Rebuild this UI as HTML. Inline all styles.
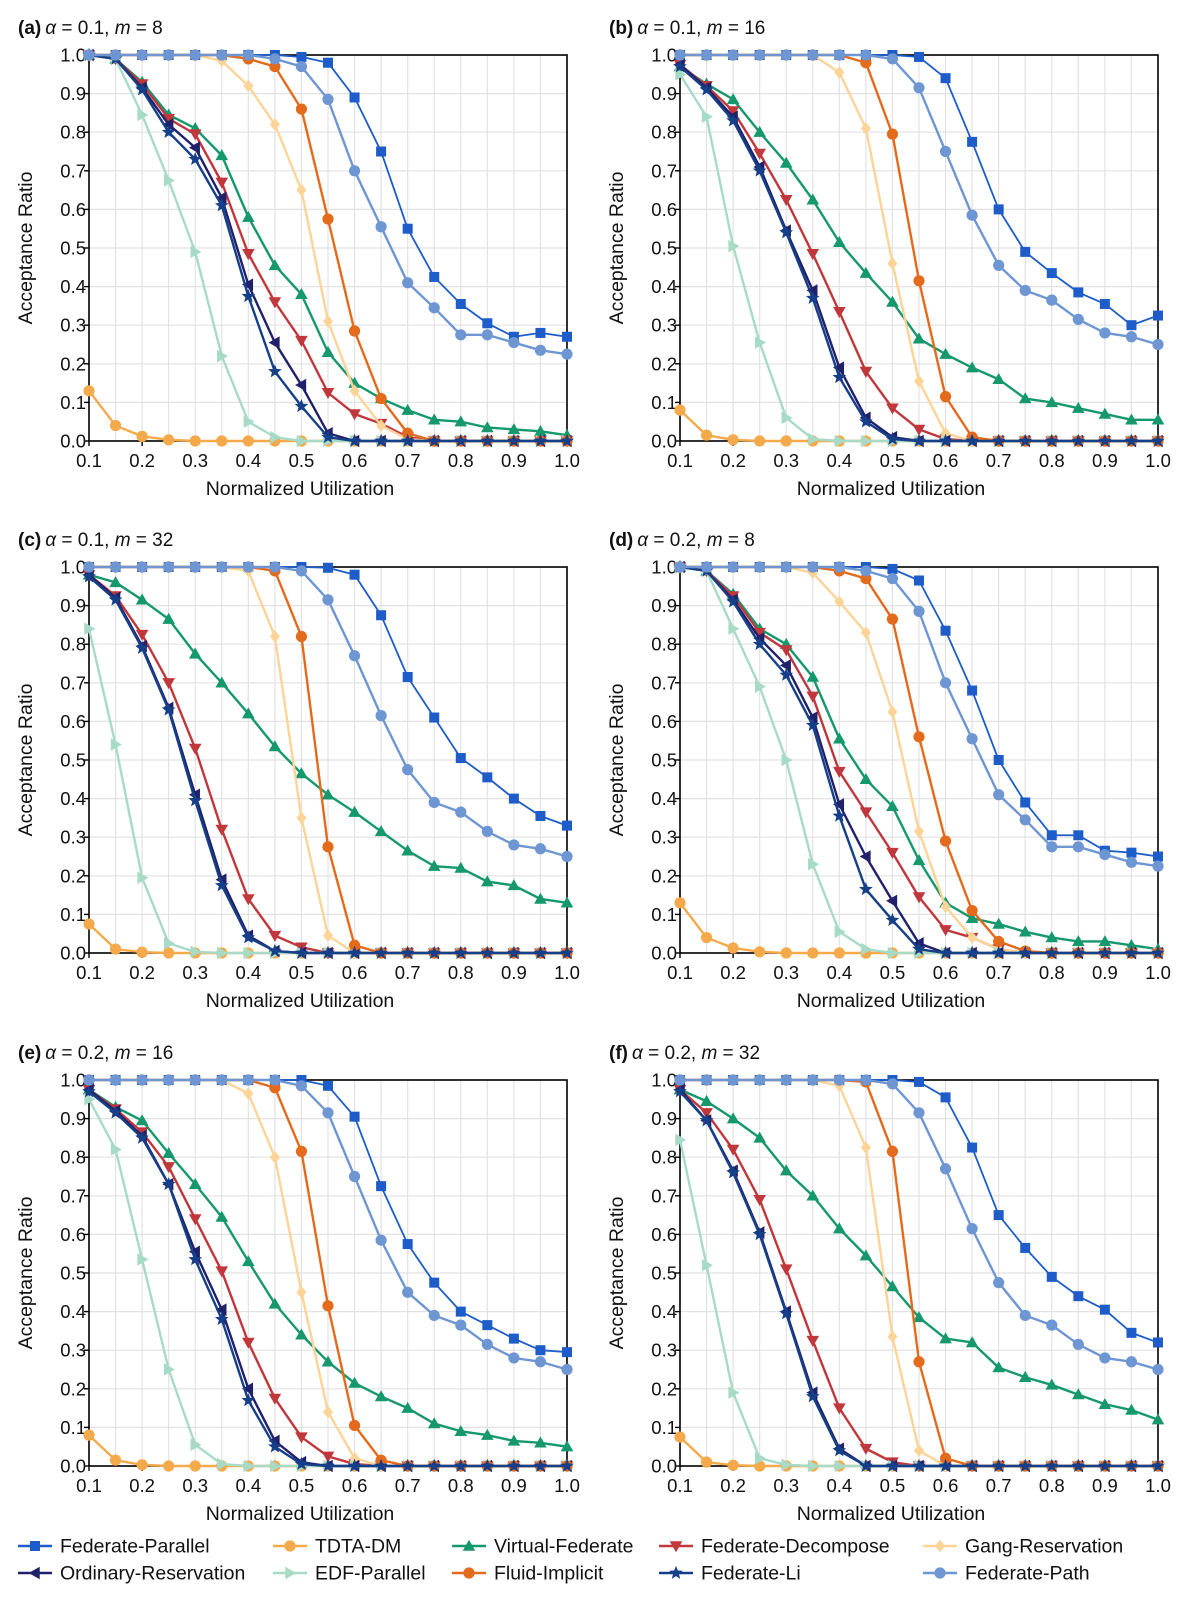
<!DOCTYPE html>
<html><head><meta charset="utf-8">
<style>
html,body{margin:0;padding:0;background:#fff;}
svg{display:block;font-family:"Liberation Sans","DejaVu Sans",sans-serif;}
</style></head>
<body>
<svg id="chart" width="1183" height="1600" viewBox="0 0 1183 1600" xmlns="http://www.w3.org/2000/svg"></svg>
<script>
const xValues = [0.1,0.15,0.2,0.25,0.3,0.35,0.4,0.45,0.5,0.55,0.6,0.65,0.7,0.75,0.8,0.85,0.9,0.95,1.0];
const xTickLabels = ["0.1","0.2","0.3","0.4","0.5","0.6","0.7","0.8","0.9","1.0"];
const yTickLabels = ["0.0","0.1","0.2","0.3","0.4","0.5","0.6","0.7","0.8","0.9","1.0"];
const seriesNames = ["Federate-Parallel","TDTA-DM","Virtual-Federate","Federate-Decompose","Gang-Reservation","Ordinary-Reservation","EDF-Parallel","Fluid-Implicit","Federate-Li","Federate-Path"];
const panelTitles = [["(a)","0.1","8"],["(b)","0.1","16"],["(c)","0.1","32"],["(d)","0.2","8"],["(e)","0.2","16"],["(f)","0.2","32"]];

// Panel (a) alpha=0.1 m=8
const panelA_FP   = [1,1,1,1,1,1,1,1,.995,.98,.89,.75,.55,.425,.355,.305,.27,.28,.27];
const panelA_TDTA = [.13,.04,.012,.003,0,0,0,0,0,0,0,0,0,0,0,0,0,0,0];
const panelA_VF   = [1,.99,.93,.845,.81,.74,.58,.455,.38,.23,.15,.11,.08,.055,.05,.035,.03,.025,.015];
const panelA_FD   = [1,.99,.925,.835,.795,.67,.485,.36,.26,.125,.07,.045,.01,0,0,0,0,0,0];
const panelA_GR   = [1,1,1,1,1,.985,.92,.82,.65,.31,.13,.04,.005,0,0,0,0,0,0];
const panelA_OR   = [1,.99,.915,.82,.76,.63,.405,.255,.145,.02,0,0,0,0,0,0,0,0,0];
const panelA_EDF  = [1,.99,.845,.675,.49,.22,.05,.01,0,0,0,0,0,0,0,0,0,0,0];
const panelA_FI   = [1,1,1,1,1,1,.99,.97,.86,.575,.285,.11,.02,0,0,0,0,0,0];
const panelA_FLi  = [1,.99,.91,.80,.73,.61,.375,.18,.09,.01,0,0,0,0,0,0,0,0,0];
const panelA_FPa  = [1,1,1,1,1,1,1,.99,.97,.885,.70,.555,.41,.345,.275,.275,.255,.235,.225];
// Panel (b) alpha=0.1 m=16
const panelB_FP   = [1,1,1,1,1,1,1,1,1,.995,.94,.775,.60,.49,.435,.385,.355,.30,.325];
const panelB_TDTA = [.08,.015,.003,0,0,0,0,0,0,0,0,0,0,0,0,0,0,0,0];
const panelB_VF   = [.97,.925,.885,.80,.72,.625,.515,.435,.36,.265,.225,.19,.16,.11,.10,.085,.07,.055,.055];
const panelB_FD   = [.975,.92,.855,.745,.625,.485,.335,.18,.085,.03,.005,0,0,0,0,0,0,0,0];
const panelB_GR   = [1,1,1,1,1,1,.955,.81,.46,.155,.02,0,0,0,0,0,0,0,0];
const panelB_OR   = [.975,.915,.84,.71,.545,.39,.19,.06,.01,0,0,0,0,0,0,0,0,0,0];
const panelB_EDF  = [.95,.84,.505,.255,.06,.005,0,0,0,0,0,0,0,0,0,0,0,0,0];
const panelB_FI   = [1,1,1,1,1,1,1,.98,.795,.415,.115,.01,0,0,0,0,0,0,0];
const panelB_FLi  = [.97,.91,.83,.70,.54,.37,.165,.05,.005,0,0,0,0,0,0,0,0,0,0];
const panelB_FPa  = [1,1,1,1,1,1,1,1,.99,.915,.75,.585,.455,.39,.365,.315,.28,.27,.25];
// Panel (c) alpha=0.1 m=32
const panelC_FP   = [1,1,1,1,1,1,1,1,1,.998,.98,.875,.715,.61,.505,.455,.40,.355,.33];
const panelC_TDTA = [.075,.01,.002,0,0,0,0,0,0,0,0,0,0,0,0,0,0,0,0];
const panelC_VF   = [.98,.96,.915,.865,.775,.70,.62,.535,.465,.41,.365,.315,.265,.225,.22,.185,.175,.14,.13];
const panelC_FD   = [.98,.925,.825,.70,.53,.32,.14,.045,.015,0,0,0,0,0,0,0,0,0,0];
const panelC_GR   = [1,1,1,1,1,1,.99,.82,.35,.045,0,0,0,0,0,0,0,0,0];
const panelC_OR   = [.98,.92,.795,.635,.41,.19,.045,.005,0,0,0,0,0,0,0,0,0,0,0];
const panelC_EDF  = [.84,.54,.195,.025,.003,0,0,0,0,0,0,0,0,0,0,0,0,0,0];
const panelC_FI   = [1,1,1,1,1,1,1,.99,.82,.275,.02,0,0,0,0,0,0,0,0];
const panelC_FLi  = [.975,.915,.79,.63,.395,.175,.04,.005,0,0,0,0,0,0,0,0,0,0,0];
const panelC_FPa  = [1,1,1,1,1,1,1,1,.99,.915,.77,.615,.475,.39,.365,.315,.28,.27,.25];
// Panel (d) alpha=0.2 m=8
const panelD_FP   = [1,1,1,1,1,1,1,1,.995,.965,.835,.68,.50,.39,.305,.305,.265,.26,.25];
const panelD_TDTA = [.13,.04,.013,.003,0,0,0,0,0,0,0,0,0,0,0,0,0,0,0];
const panelD_VF   = [1,.99,.93,.84,.80,.715,.555,.45,.38,.24,.13,.09,.075,.055,.04,.03,.03,.02,.01];
const panelD_FD   = [1,.99,.925,.83,.785,.665,.47,.365,.26,.145,.06,.04,.01,0,0,0,0,0,0];
const panelD_GR   = [1,1,1,1,1,.985,.91,.83,.625,.315,.12,.04,.01,0,0,0,0,0,0];
const panelD_OR   = [1,.99,.915,.815,.745,.61,.385,.25,.135,.025,0,0,0,0,0,0,0,0,0];
const panelD_EDF  = [1,.99,.84,.69,.50,.23,.055,.01,0,0,0,0,0,0,0,0,0,0,0];
const panelD_FI   = [1,1,1,1,1,1,.99,.97,.865,.56,.29,.11,.03,.005,0,0,0,0,0];
const panelD_FLi  = [1,.99,.91,.80,.72,.59,.355,.165,.085,.01,0,0,0,0,0,0,0,0,0];
const panelD_FPa  = [1,1,1,1,1,1,1,.99,.97,.885,.70,.555,.41,.345,.275,.275,.255,.235,.225];
// Panel (e) alpha=0.2 m=16
const panelE_FP   = [1,1,1,1,1,1,1,1,1,.985,.905,.725,.575,.475,.40,.365,.33,.30,.295];
const panelE_TDTA = [.08,.015,.003,0,0,0,0,0,0,0,0,0,0,0,0,0,0,0,0];
const panelE_VF   = [.975,.93,.895,.81,.73,.645,.53,.42,.34,.27,.215,.18,.15,.11,.09,.08,.065,.06,.05];
const panelE_FD   = [.975,.925,.865,.775,.64,.505,.32,.175,.075,.025,.005,0,0,0,0,0,0,0,0];
const panelE_GR   = [1,1,1,1,1,1,.965,.80,.45,.14,.02,0,0,0,0,0,0,0,0];
const panelE_OR   = [.975,.92,.855,.73,.555,.405,.20,.065,.01,0,0,0,0,0,0,0,0,0,0];
const panelE_EDF  = [.95,.82,.535,.25,.055,.005,0,0,0,0,0,0,0,0,0,0,0,0,0];
const panelE_FI   = [1,1,1,1,1,1,1,.98,.815,.415,.105,.015,0,0,0,0,0,0,0];
const panelE_FLi  = [.97,.915,.85,.73,.535,.38,.17,.05,.005,0,0,0,0,0,0,0,0,0,0];
const panelE_FPa  = [1,1,1,1,1,1,1,1,.985,.915,.75,.585,.45,.39,.365,.315,.28,.27,.25];
// Panel (f) alpha=0.2 m=32
const panelF_FP   = [1,1,1,1,1,1,1,1,1,.995,.955,.825,.65,.565,.49,.44,.405,.345,.32];
const panelF_TDTA = [.075,.01,.002,0,0,0,0,0,0,0,0,0,0,0,0,0,0,0,0];
const panelF_VF   = [.975,.945,.90,.85,.765,.70,.615,.545,.465,.385,.33,.32,.255,.23,.21,.185,.16,.145,.12];
const panelF_FD   = [.975,.915,.82,.69,.51,.325,.15,.045,.01,0,0,0,0,0,0,0,0,0,0];
const panelF_GR   = [1,1,1,1,1,1,.985,.825,.335,.04,0,0,0,0,0,0,0,0,0];
const panelF_OR   = [.975,.895,.765,.605,.40,.19,.045,0,0,0,0,0,0,0,0,0,0,0,0];
const panelF_EDF  = [.845,.52,.19,.02,.003,0,0,0,0,0,0,0,0,0,0,0,0,0,0];
const panelF_FI   = [1,1,1,1,1,1,1,.995,.815,.27,.02,0,0,0,0,0,0,0,0];
const panelF_FLi  = [.97,.895,.76,.60,.395,.18,.04,0,0,0,0,0,0,0,0,0,0,0,0];
const panelF_FPa  = [1,1,1,1,1,1,1,1,.99,.915,.77,.615,.475,.39,.365,.315,.28,.27,.25];

const panelsData = [
 [panelA_FP,panelA_TDTA,panelA_VF,panelA_FD,panelA_GR,panelA_OR,panelA_EDF,panelA_FI,panelA_FLi,panelA_FPa],
 [panelB_FP,panelB_TDTA,panelB_VF,panelB_FD,panelB_GR,panelB_OR,panelB_EDF,panelB_FI,panelB_FLi,panelB_FPa],
 [panelC_FP,panelC_TDTA,panelC_VF,panelC_FD,panelC_GR,panelC_OR,panelC_EDF,panelC_FI,panelC_FLi,panelC_FPa],
 [panelD_FP,panelD_TDTA,panelD_VF,panelD_FD,panelD_GR,panelD_OR,panelD_EDF,panelD_FI,panelD_FLi,panelD_FPa],
 [panelE_FP,panelE_TDTA,panelE_VF,panelE_FD,panelE_GR,panelE_OR,panelE_EDF,panelE_FI,panelE_FLi,panelE_FPa],
 [panelF_FP,panelF_TDTA,panelF_VF,panelF_FD,panelF_GR,panelF_OR,panelF_EDF,panelF_FI,panelF_FLi,panelF_FPa]
];

const colors = ["#1d5cc9","#f4a94a","#15986b","#c0373c","#fcd497","#21206b","#a8dbc7","#e46a1c","#153f88","#6d96d3"];
const shapes = ["square","circle","tup","tdown","diamond","tleft","tright","circle","star","circle"];
const NS = "http://www.w3.org/2000/svg";
const svg = document.getElementById("chart");
function el(tag, attrs, parent){const e=document.createElementNS(NS,tag);for(const k in attrs)e.setAttribute(k,attrs[k]);(parent||svg).appendChild(e);return e;}

function marker(g, shape, cx, cy, color){
  let e; const r=6.3;
  if(shape==="square") e=el("rect",{x:cx-5,y:cy-5,width:10,height:10,fill:color},g);
  else if(shape==="circle") e=el("circle",{cx:cx,cy:cy,r:5.6,fill:color},g);
  else {
    let pts;
    if(shape==="tup") pts=[[0,-r],[r,r*0.75],[-r,r*0.75]];
    else if(shape==="tdown") pts=[[0,r],[r,-r*0.75],[-r,-r*0.75]];
    else if(shape==="tleft") pts=[[-r,0],[r*0.75,-r],[r*0.75,r]];
    else if(shape==="tright") pts=[[r,0],[-r*0.75,-r],[-r*0.75,r]];
    else if(shape==="diamond") pts=[[0,-r],[r*0.8,0],[0,r],[-r*0.8,0]];
    else { pts=[]; for(let i=0;i<10;i++){const a=-Math.PI/2+i*Math.PI/5;const rr=i%2?3.1:7.2;pts.push([rr*Math.cos(a),rr*Math.sin(a)]);} }
    e=el("polygon",{points:pts.map(p=>(cx+p[0]).toFixed(2)+","+(cy+p[1]).toFixed(2)).join(" "),fill:color},g);
  }
  return e;
}

const origins = [[89,55],[680,55],[89,567],[680,567],[89,1080],[680,1080]];
const W=478, H=386;

panelsData.forEach((series, p)=>{
  const [x0,y0]=origins[p];
  const xs = v => x0 + (v-0.1)/0.9*W;
  const ys = v => y0 + H - v*H;
  const g = el("g",{});
  
  
  for(let i=0;i<=18;i++){const gx=xs(0.1+i*0.05);el("line",{x1:gx,x2:gx,y1:y0,y2:y0+H,stroke:"#e2e2e2","stroke-width":1.2},g);}
  for(let i=0;i<=10;i++){const gy=ys(i/10);el("line",{x1:x0,x2:x0+W,y1:gy,y2:gy,stroke:"#e2e2e2","stroke-width":1.2},g);}
  const fr=el("rect",{x:x0,y:y0,width:W,height:H,fill:"none",stroke:"#000","stroke-width":1.6},g);
  
  
  yTickLabels.forEach((t,i)=>{const gy=ys(i/10);
    el("line",{x1:x0-5,x2:x0,y1:gy,y2:gy,stroke:"#000","stroke-width":1.4},g);
    const tx=el("text",{x:x0-3,y:gy+6.5,"text-anchor":"end","font-size":18.5,fill:"#111"},g);tx.textContent=t;
    
    
  });
  xTickLabels.forEach((t,i)=>{const gx=xs(0.1+i*0.1);
    el("line",{x1:gx,x2:gx,y1:y0+H,y2:y0+H+5,stroke:"#000","stroke-width":1.4},g);
    const tx=el("text",{x:gx,y:y0+H+26,"text-anchor":"middle","font-size":18.5,fill:"#111"},g);tx.textContent=t;
    
    
  });
  const xl=el("text",{x:x0+W/2-28,y:y0+H+54,"text-anchor":"middle","font-size":19.5,fill:"#111"},g);xl.textContent="Normalized Utilization";
  
  
  const ylx=x0-57, yly=y0+H/2;
  const yl=el("text",{x:ylx,y:yly,"text-anchor":"middle","font-size":19.5,fill:"#111",transform:`rotate(-90 ${ylx} ${yly})`},g);yl.textContent="Acceptance Ratio";
  
  
  const tt=panelTitles[p];
  const ti=el("text",{x:x0-71,y:y0-21,"font-size":19,fill:"#111"},g);
  
  
  const s1=el("tspan",{"font-weight":"bold"},ti);s1.textContent=tt[0];
  const s2=el("tspan",{"font-style":"italic",dx:4},ti);s2.textContent="α";
  const s3=el("tspan",{},ti);s3.textContent=" = "+tt[1]+", ";
  const s4=el("tspan",{"font-style":"italic"},ti);s4.textContent="m";
  const s5=el("tspan",{},ti);s5.textContent=" = "+tt[2];
  series.forEach((vals,s)=>{
    const sg=el("g",{},g);
    
    
    const pts=vals.map((v,i)=>xs(xValues[i]).toFixed(2)+","+ys(v).toFixed(2)).join(" ");
    const pl=el("polyline",{points:pts,fill:"none",stroke:colors[s],"stroke-width":s===0?1.8:2.4,"stroke-linejoin":"round"},sg);
    
    
    vals.forEach((v,i)=>{
      const m=marker(sg,shapes[s],xs(xValues[i]),ys(v),colors[s]);
      
      
    });
  });
});

const legCols=[18,273,452,659,923];
const legRows=[1546,1573];
const lg=el("g",{});


seriesNames.forEach((n,i)=>{
  const col=i%5,row=Math.floor(i/5);
  const lx=legCols[col], ly=legRows[row];
  const eg=el("g",{},lg);
  
  
  el("line",{x1:lx,x2:lx+34,y1:ly,y2:ly,stroke:colors[i],"stroke-width":2.6},eg);
  marker(eg,shapes[i],lx+17,ly,colors[i]);
  const t=el("text",{x:lx+42,y:ly+6.5,"font-size":19.5,fill:"#111"},eg);t.textContent=n;
});
</script>
</body></html>
